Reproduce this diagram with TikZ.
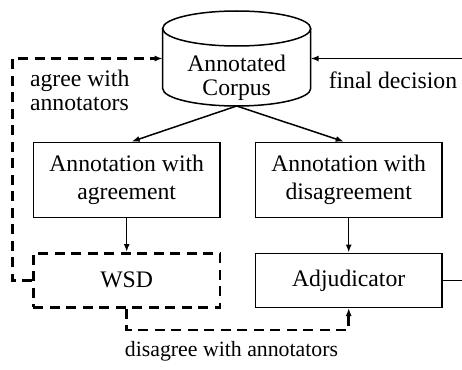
\documentclass[tikz,border=0pt]{standalone}
\usepackage{fontspec}
\setmainfont{Liberation Serif}
\usetikzlibrary{arrows.meta,calc}
\begin{document}
\begin{tikzpicture}[x=1pt,y=-1pt,
  line width=1.5pt,
  >={Latex[length=8pt,width=6pt]},
  box/.style={draw, minimum width=186.7pt, inner sep=0pt, align=center, font=\fontsize{23.7}{28}\selectfont},
  dashedline/.style={line width=2.5pt, dash pattern=on 10pt off 6.5pt},
  lbl/.style={inner sep=0pt, font=\fontsize{23.7}{24}\selectfont}]
\useasboundingbox (0,0) rectangle (462,369);
% boxes
\node[box, minimum height=75pt] (agr) at (126.7,179.8) {Annotation with\\agreement};
\node[box, minimum height=75pt] (dis) at (348.7,179.8) {Annotation with\\disagreement};
\node[box, minimum height=54pt] (adj) at (348.7,280.3) {Adjudicator};
\node[box, minimum height=54pt, dashedline] (wsd) at (126.7,280.3) {WSD};
% corpus cylinder
\node[minimum width=148pt, minimum height=95pt, inner sep=0pt, outer sep=0pt] (corpus) at (236.7,58.5) {};
\draw ($(corpus.north)+(0,17.5)$) ellipse [x radius=74pt, y radius=17.5pt];
\draw ($(corpus.west)+(0,-30)$) -- ($(corpus.west)+(0,30)$)
  arc[start angle=180, end angle=360, x radius=74pt, y radius=17.5pt]
  -- ($(corpus.east)+(0,-30)$);
\node[lbl, align=center] (corpustext) at (236.7,77.3) {Annotated\\Corpus};
% connectors
\draw[->] (corpus.south) -- ([xshift=5pt]agr.north);
\draw[->] (corpus.south) -- ([xshift=-5pt]dis.north);
\draw[->] (agr.south) -- (wsd.north);
\draw[->] (dis.south) -- (adj.north);
\coordinate (rc) at (463,0);
\draw[->] (adj.east) -- (adj.east -| rc) -- (corpus.east -| rc) -- (corpus.east);
\coordinate (lc) at (12.3,0);
\draw[dashedline,->] (wsd.west) -- (wsd.west -| lc) -- (corpus.west -| lc) -- (corpus.west);
\coordinate (bc) at (0,330);
\draw[dashedline,->] (wsd.south) -- (wsd.south |- bc) -- (adj.south |- bc) -- (adj.south);
% labels
\node[lbl, align=left, anchor=west] (agreetxt) at (29.3,90.75) {agree with\\annotators};
\node[lbl, anchor=base west] (finaltxt) at (328,88.3) {final decision};
\node[inner sep=0pt, font=\fontsize{21.8}{24}\selectfont, anchor=base] (disagreetxt) at (231.5,356.7) {disagree with annotators};
\end{tikzpicture}
\end{document}
